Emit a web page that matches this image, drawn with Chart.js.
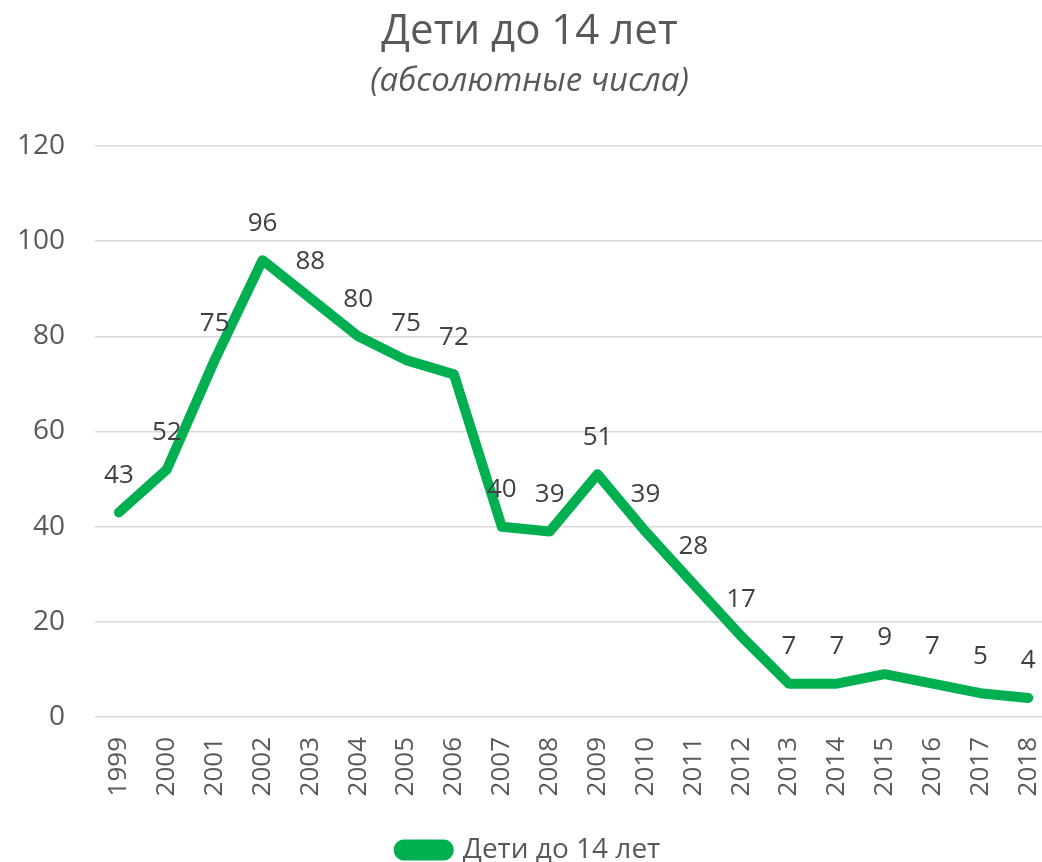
<!DOCTYPE html>
<html>
<head>
<meta charset="utf-8">
<script src="https://cdn.jsdelivr.net/npm/chart.js@4/dist/chart.umd.min.js"></script>
<style>
  html, body { margin: 0; padding: 0; background: #fff; overflow: hidden; }
  #wrap { width: 1080px; height: 862px; }
</style>
</head>
<body>
<div id="wrap"><canvas id="c" width="1080" height="862"></canvas></div>
<script>
const years = ['1999','2000','2001','2002','2003','2004','2005','2006','2007','2008',
  '2009','2010','2011','2012','2013','2014','2015','2016','2017','2018'];
const children = [43, 52, 75, 96, 88, 80, 75, 72, 40, 39, 51, 39, 28, 17, 7, 7, 9, 7, 5, 4];
const seriesName = 'Дети до 14 лет';
const titleText = 'Дети до 14 лет';
const subtitleText = '(абсолютные числа)';

const FONT = '"Open Sans", "Noto Sans", sans-serif';
const GREEN = '#00B050';

// simple value labels above each point (Excel style)
const pointLabels = {
  id: 'pointLabels',
  afterDatasetsDraw(chart) {
    const ctx = chart.ctx;
    const meta = chart.getDatasetMeta(0);
    ctx.save();
    ctx.font = '26px ' + FONT;
    ctx.fillStyle = '#404040';
    ctx.textAlign = 'center';
    ctx.textBaseline = 'middle';
    meta.data.forEach((pt, i) => {
      ctx.fillText(String(children[i]), pt.x, pt.y - 37);
    });
    ctx.restore();
  }
};

new Chart(document.getElementById('c'), {
  type: 'line',
  data: {
    labels: years,
    datasets: [{
      label: seriesName,
      data: children,
      borderColor: GREEN,
      backgroundColor: GREEN,
      borderWidth: 10,
      borderCapStyle: 'round',
      borderJoinStyle: 'round',
      pointRadius: 0,
      tension: 0,
    }]
  },
  options: {
    responsive: false,
    animation: false,
    layout: { padding: { left: 0, right: 21, top: 4, bottom: -12 } },
    plugins: {
      title: {
        display: true, text: titleText, color: '#595959',
        font: { family: FONT, size: 42, weight: 'normal' }, padding: { top: 3, bottom: 2 }
      },
      subtitle: {
        display: true, text: subtitleText, color: '#595959',
        font: { family: FONT, size: 33, style: 'italic' }, padding: { top: 2, bottom: 45 }
      },
      legend: {
        position: 'bottom',
        labels: {
          color: '#595959', font: { family: FONT, size: 28 },
          boxWidth: 50, boxHeight: 11, useBorderRadius: true, borderRadius: 5, padding: 0
        }
      },
      tooltip: { enabled: false }
    },
    scales: {
      x: {
        offset: true,
        grid: { display: false, drawTicks: false },
        border: { display: false },
        ticks: { color: '#595959', font: { family: FONT, size: 26 }, maxRotation: 90, minRotation: 90, padding: 20, autoSkip: false },
        afterFit(s) { s.height = 119; }
      },
      y: {
        min: 0, max: 120,
        ticks: { stepSize: 20, color: '#595959', font: { family: FONT, size: 28 }, padding: 30 },
        grid: { color: '#D9D9D9', lineWidth: 1.5, drawTicks: false },
        border: { display: false },
        afterFit(s) { s.width = 95; }
      }
    }
  },
  plugins: [pointLabels]
});
</script>
</body>
</html>
